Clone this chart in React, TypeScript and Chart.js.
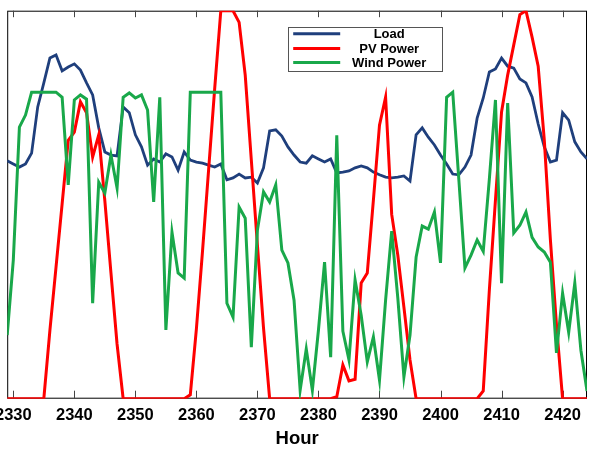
import React, { useEffect, useRef } from "react";
import { Chart, registerables } from "chart.js";

Chart.register(...registerables);

const hours = [
  2329, 2330, 2331, 2332, 2333, 2334, 2335, 2336, 2337, 2338,
  2339, 2340, 2341, 2342, 2343, 2344, 2345, 2346, 2347, 2348,
  2349, 2350, 2351, 2352, 2353, 2354, 2355, 2356, 2357, 2358,
  2359, 2360, 2361, 2362, 2363, 2364, 2365, 2366, 2367, 2368,
  2369, 2370, 2371, 2372, 2373, 2374, 2375, 2376, 2377, 2378,
  2379, 2380, 2381, 2382, 2383, 2384, 2385, 2386, 2387, 2388,
  2389, 2390, 2391, 2392, 2393, 2394, 2395, 2396, 2397, 2398,
  2399, 2400, 2401, 2402, 2403, 2404, 2405, 2406, 2407, 2408,
  2409, 2410, 2411, 2412, 2413, 2414, 2415, 2416, 2417, 2418,
  2419, 2420, 2421, 2422, 2423, 2424,
];

const xTickValues = [2330, 2340, 2350, 2360, 2370, 2380, 2390, 2400, 2410, 2420];

const loadValues = [
  0.613, 0.605, 0.597, 0.605, 0.633, 0.752, 0.814, 0.878, 0.886, 0.845,
  0.855, 0.863, 0.847, 0.814, 0.783, 0.698, 0.636, 0.628, 0.626, 0.752,
  0.737, 0.680, 0.649, 0.602, 0.618, 0.610, 0.631, 0.623, 0.589, 0.636,
  0.615, 0.610, 0.607, 0.602, 0.597, 0.605, 0.564, 0.569, 0.579, 0.569,
  0.571, 0.556, 0.595, 0.690, 0.693, 0.677, 0.649, 0.628, 0.610, 0.607,
  0.626, 0.618, 0.610, 0.618, 0.582, 0.584, 0.587, 0.595, 0.600, 0.595,
  0.584, 0.577, 0.571, 0.569, 0.571, 0.574, 0.561, 0.680, 0.698, 0.674,
  0.654, 0.628, 0.605, 0.579, 0.577, 0.597, 0.628, 0.723, 0.775, 0.842,
  0.850, 0.878, 0.857, 0.852, 0.824, 0.814, 0.778, 0.708, 0.649, 0.610,
  0.615, 0.737, 0.718, 0.662, 0.636, 0.618,
];

const pvValues = [
  0, 0, 0, 0, 0, 0, 0, 0.177, 0.339, 0.502,
  0.666, 0.687, 0.765, 0.737, 0.623, 0.680, 0.51, 0.324, 0.141, 0,
  0, 0, 0, 0, 0, 0, 0, 0, 0, 0,
  0.01, 0.18, 0.38, 0.59, 0.80, 1.0, 1.0, 1.0, 0.97, 0.834,
  0.615, 0.396, 0.182, 0, 0, 0, 0, 0, 0, 0,
  0, 0, 0, 0, 0.005, 0.087, 0.046, 0.05, 0.298, 0.324,
  0.512, 0.705, 0.777, 0.475, 0.37, 0.236, 0.1, 0, 0, 0,
  0, 0, 0, 0, 0, 0, 0, 0, 0.02, 0.28,
  0.512, 0.739, 0.834, 0.912, 0.99, 1.0, 0.932, 0.857, 0.667, 0.41,
  0.19, 0, 0, 0, 0, 0,
];

const windValues = [
  0.164, 0.357, 0.700, 0.731, 0.790, 0.790, 0.790, 0.790, 0.790, 0.777,
  0.551, 0.770, 0.783, 0.772, 0.246, 0.558, 0.530, 0.628, 0.543, 0.777,
  0.788, 0.775, 0.783, 0.744, 0.507, 0.777, 0.177, 0.429, 0.324, 0.311,
  0.790, 0.790, 0.790, 0.790, 0.790, 0.790, 0.246, 0.210, 0.494, 0.465,
  0.133, 0.435, 0.533, 0.507, 0.551, 0.383, 0.350, 0.254, 0.022, 0.128,
  0.022, 0.177, 0.352, 0.107, 0.679, 0.174, 0.100, 0.306, 0.215, 0.095,
  0.159, 0.048, 0.254, 0.432, 0.26, 0.056, 0.164, 0.365, 0.445, 0.437,
  0.481, 0.350, 0.777, 0.790, 0.565, 0.337, 0.370, 0.409, 0.380, 0.566,
  0.770, 0.298, 0.762, 0.427, 0.447, 0.481, 0.416, 0.391, 0.378, 0.352,
  0.118, 0.272, 0.171, 0.298, 0.125, 0.02,
];

const seriesNames = ["Load", "PV Power", "Wind Power"];
const xTitle = "Hour";

const BLUE = "#1f3f7c";
const RED = "#ff0000";
const GREEN = "#19a84a";
const COLORS = [BLUE, RED, GREEN];
const FONT = "'Liberation Sans', Arial, sans-serif";

const framePlugin = {
  id: "frameTicks",
  beforeDatasetsDraw(chart: any) {
    const { ctx, chartArea: a, scales } = chart;
    const xs = scales.x;
    ctx.save();
    ctx.strokeStyle = "#000";
    ctx.lineWidth = 1;
    ctx.strokeRect(a.left + 0.5, a.top + 0.5, a.right - a.left - 1, a.bottom - a.top - 1);
    ctx.strokeStyle = "#444";
    ctx.beginPath();
    for (const v of xTickValues) {
      const px = Math.round(xs.getPixelForValue(v)) + 0.5;
      ctx.moveTo(px, a.top);
      ctx.lineTo(px, a.top + 6.5);
      ctx.moveTo(px, a.bottom);
      ctx.lineTo(px, a.bottom - 8);
    }
    ctx.stroke();
    ctx.restore();
  },
};

const legendPlugin = {
  id: "customLegend",
  afterDatasetsDraw(chart: any) {
    const { ctx, chartArea: a } = chart;
    const left = a.left + 280.5;
    const top = a.top + 16;
    const w = 154;
    const h = 44;
    ctx.save();
    ctx.fillStyle = "#fff";
    ctx.fillRect(left, top, w, h);
    ctx.strokeStyle = "#555";
    ctx.lineWidth = 1;
    ctx.strokeRect(Math.round(left) + 0.5, Math.round(top) + 0.5, w, h);
    const rows = [top + 7, top + 21.8, top + 35.8];
    seriesNames.forEach((name, i) => {
      const y = rows[i];
      ctx.strokeStyle = COLORS[i];
      ctx.lineWidth = 3;
      ctx.beginPath();
      ctx.moveTo(left + 5.5, y);
      ctx.lineTo(left + 52.5, y);
      ctx.stroke();
      ctx.fillStyle = "#000";
      ctx.font = `bold 13px ${FONT}`;
      ctx.textAlign = "center";
      ctx.textBaseline = "middle";
      ctx.fillText(name, left + 101.5, y + 0.5);
    });
    ctx.restore();
  },
};

export default function App() {
  const canvasRef = useRef<HTMLCanvasElement | null>(null);

  useEffect(() => {
    const canvas = canvasRef.current;
    if (!canvas) return;
    const mk = (vals: number[]) => hours.map((h, i) => ({ x: h, y: vals[i] }));
    const chart = new Chart(canvas, {
      type: "line",
      data: {
        datasets: [
          {
            label: seriesNames[0],
            data: mk(loadValues),
            borderColor: BLUE,
            borderWidth: 2.8,
            pointRadius: 0,
            tension: 0,
            order: 2,
          },
          {
            label: seriesNames[1],
            data: mk(pvValues),
            borderColor: RED,
            borderWidth: 3,
            pointRadius: 0,
            tension: 0,
            order: 1,
          },
          {
            label: seriesNames[2],
            data: mk(windValues),
            borderColor: GREEN,
            borderWidth: 3,
            pointRadius: 0,
            tension: 0,
            order: 0,
          },
        ],
      },
      options: {
        responsive: false,
        animation: false,
        events: [],
        layout: { padding: { left: 7.2, right: 2, top: 10.7, bottom: 0 } },
        plugins: {
          legend: { display: false },
          tooltip: { enabled: false },
        },
        scales: {
          x: {
            type: "linear",
            min: 2329,
            max: 2424,
            border: { display: false },
            grid: { display: false, drawTicks: false },
            afterBuildTicks: (scale: any) => {
              scale.ticks = xTickValues.map((v) => ({ value: v }));
            },
            afterFit: (scale: any) => {
              scale.height = 51.3;
              scale.paddingLeft = 0;
              scale.paddingRight = 0;
            },
            ticks: {
              autoSkip: false,
              maxRotation: 0,
              padding: 7,
              color: "#000",
              font: { family: FONT, size: 16.5, weight: "bold" },
              callback: (v: any) => String(v),
            },
            title: {
              display: true,
              text: xTitle,
              color: "#000",
              padding: { top: 4, bottom: 0 },
              font: { family: FONT, size: 18.5, weight: "bold" },
            },
          },
          y: {
            type: "linear",
            min: 0,
            max: 1,
            display: false,
          },
        },
      },
      plugins: [framePlugin, legendPlugin],
    } as any);
    return () => chart.destroy();
  }, []);

  return (
    <div style={{ position: "absolute", left: 0, top: 0, width: 589, height: 450, background: "#fff" }}>
      <canvas ref={canvasRef} width={589} height={450} style={{ display: "block" }} />
    </div>
  );
}
